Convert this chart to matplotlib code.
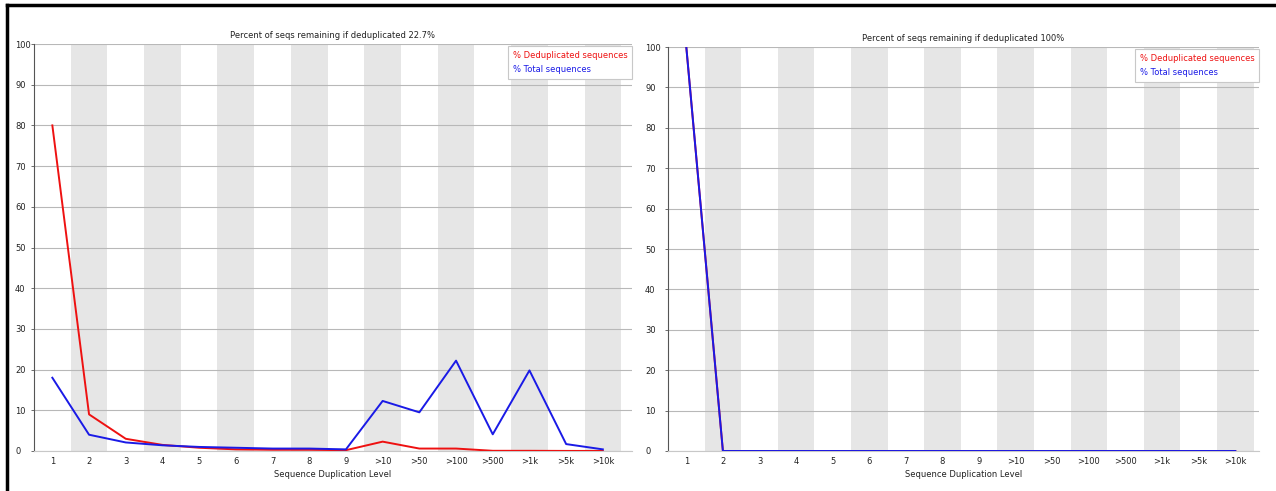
import matplotlib
matplotlib.use('Agg')
import matplotlib.pyplot as plt
from matplotlib.lines import Line2D

plt.rcParams['font.family'] = ['DejaVu Sans']

levels = ['1', '2', '3', '4', '5', '6', '7', '8', '9',
          '>10', '>50', '>100', '>500', '>1k', '>5k', '>10k']

# sample A
dedup_a = [80.0, 9.0, 3.0, 1.5, 0.8, 0.4, 0.3, 0.3, 0.2,
           2.3, 0.6, 0.6, 0.05, 0.05, 0.02, 0.01]
total_a = [18.0, 4.0, 2.1, 1.4, 1.0, 0.8, 0.6, 0.6, 0.4,
           12.3, 9.5, 22.2, 4.1, 19.8, 1.7, 0.4]
title_a = 'Percent of seqs remaining if deduplicated 22.7%'

# sample B
dedup_b = [100.0, 0.0, 0.0, 0.0, 0.0, 0.0, 0.0, 0.0, 0.0,
           0.0, 0.0, 0.0, 0.0, 0.0, 0.0, 0.0]
total_b = [100.0, 0.0, 0.0, 0.0, 0.0, 0.0, 0.0, 0.0, 0.0,
           0.0, 0.0, 0.0, 0.0, 0.0, 0.0, 0.0]
title_b = 'Percent of seqs remaining if deduplicated 100%'

W, H = 1276, 491
fig = plt.figure(figsize=(W / 100, H / 100), dpi=100)
fig.patch.set_facecolor('white')

RED = '#ee1111'
BLUE = '#1a1ae6'
FS = 6.0


def dup_panel(left, top, right, bottom, band, label_x, dedup, total, title):
    ax = fig.add_axes([left / W, 1 - bottom / H, (right - left) / W, (bottom - top) / H])
    x = list(range(len(levels)))
    xmax = (right - left) / band - 0.5
    for i in x:
        if i % 2 == 1:
            ax.axvspan(i - 0.5, i + 0.5, color='#e6e6e6', lw=0, zorder=0)
    ax.set_xlim(-0.5, xmax)
    ax.set_ylim(0, 100)
    ax.set_yticks(range(0, 101, 10))
    ax.yaxis.grid(True, color='#b8b8b8', lw=0.8, zorder=1)
    ax.set_axisbelow(True)
    ax.plot(x, dedup, color=RED, lw=1.4, zorder=3, label='% Deduplicated sequences')
    ax.plot(x, total, color=BLUE, lw=1.4, zorder=4, label='% Total sequences')
    ax.set_xticks(x)
    ax.set_xticklabels(levels)
    ax.tick_params(axis='x', length=0, pad=4, labelsize=FS, colors='#222222')
    # y labels are left-aligned in a column left of the axis
    pad_pt = (left - label_x) * 0.72 - 2
    ax.tick_params(axis='y', length=2, width=0.6, pad=pad_pt, labelsize=FS,
                   colors='#222222', color='#555555')
    for t in ax.get_yticklabels():
        t.set_horizontalalignment('left')
    for s in ('top', 'right'):
        ax.spines[s].set_visible(False)
    ax.spines['left'].set_color('#555555')
    ax.spines['left'].set_linewidth(0.8)
    ax.spines['bottom'].set_color('#c8c8c8')
    ax.spines['bottom'].set_linewidth(0.8)
    ax.set_title(title, fontsize=FS, pad=4.5, color='#222222')
    ax.set_xlabel('Sequence Duplication Level', fontsize=FS, labelpad=3, color='#222222')
    leg = ax.legend(loc='upper right', bbox_to_anchor=(1.0, 0.995), fontsize=FS,
                    handlelength=0, handletextpad=0, labelcolor='linecolor',
                    frameon=True, fancybox=False, framealpha=1, borderpad=0.55,
                    labelspacing=0.7, borderaxespad=0)
    for h in leg.legend_handles:
        h.set_visible(False)
    leg.get_frame().set_edgecolor('#c8c8c8')
    leg.get_frame().set_linewidth(0.8)
    return ax


dup_panel(34, 44, 632, 451, 36.7, 15, dedup_a, total_a, title_a)
dup_panel(668, 47, 1259, 451, 36.6, 645, dedup_b, total_b, title_b)

# black frame along top and left edge
fig.add_artist(Line2D([7 / W, 7 / W], [0, 1 - 5 / H], color='black', lw=2.5))
fig.add_artist(Line2D([7 / W, 1], [1 - 5 / H, 1 - 5 / H], color='black', lw=2.5))

fig.savefig('out.png', dpi=100)
